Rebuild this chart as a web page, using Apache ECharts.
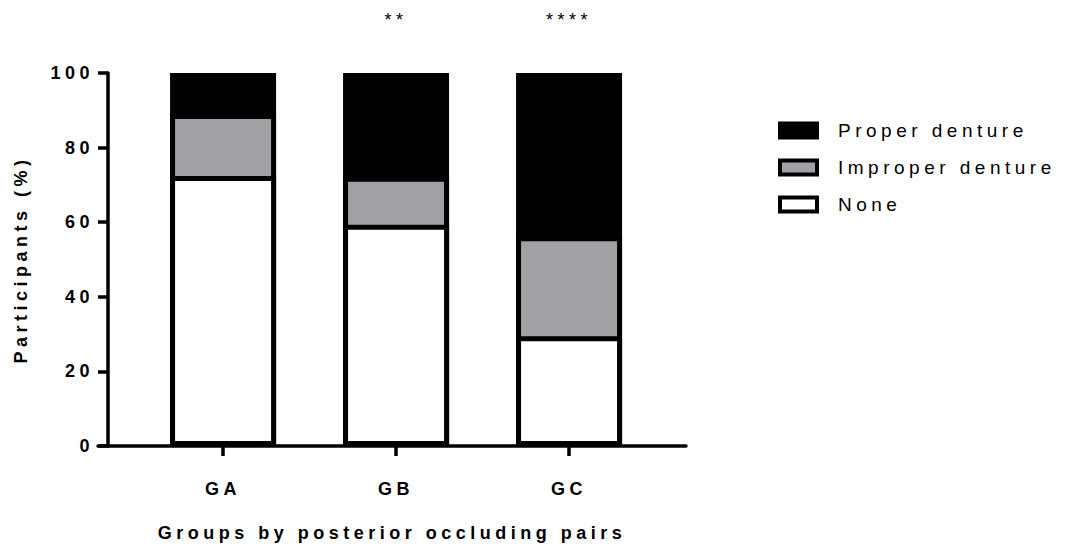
<!DOCTYPE html>
<html>
<head>
<meta charset="utf-8">
<script src="https://cdn.jsdelivr.net/npm/echarts@6/dist/echarts.min.js"></script>
<style>
html,body{margin:0;padding:0;background:#fff}
#c{width:1078px;height:547px}
#c text{letter-spacing:4.5px}
</style>
</head>
<body>
<div id="c"></div>
<script>
const categories = ['GA', 'GB', 'GC'];
const noneVals = [72.4, 59.3, 29.4];
const improperVals = [16.6, 12.9, 26.8];
const properVals = [11.0, 27.8, 43.8];
const significance = ['', '**', '****'];
const yTicks = [0, 20, 40, 60, 80, 100];

const chart = echarts.init(document.getElementById('c'), null, { renderer: 'svg' });
const pos = categories.map((c, i) => i + 1);
const font = 'Liberation Sans, Arial, sans-serif';

// stacked tops (cumulative), drawn back-to-front with overlapping bars
const topNone = noneVals.slice();
const topImproper = noneVals.map((v, i) => v + improperVals[i]);
const topProper = topImproper.map((v, i) => v + properVals[i]);

function mk(name, vals, color, extra) {
  return Object.assign({
    name: name,
    type: 'bar',
    barWidth: 106,
    barGap: '-100%',
    itemStyle: { color: color, borderColor: '#000', borderWidth: 5 },
    data: vals.map((v, i) => [pos[i], v])
  }, extra || {});
}

chart.setOption({
  animation: false,
  backgroundColor: '#fff',
  grid: { left: 98, right: 392, top: 73, bottom: 93 },
  legend: {
    orient: 'vertical',
    left: 773, top: 116,
    icon: 'rect',
    itemWidth: 37, itemHeight: 14, itemGap: 18,
    itemStyle: { borderColor: '#000', borderWidth: 4 },
    data: ['Proper denture', 'Improper denture', 'None'],
    textStyle: { fontFamily: font, fontSize: 19, color: '#000', padding: [0, 0, 0, 16] }
  },
  xAxis: {
    type: 'value',
    min: 0.277, max: 3.676,
    name: 'Groups by posterior occluding pairs',
    nameLocation: 'middle', nameGap: 78,
    nameTextStyle: { fontFamily: font, fontSize: 18, fontWeight: 'bold', color: '#000' },
    splitLine: { show: false },
    axisLine: { show: true, lineStyle: { color: '#000', width: 3.5 } },
    axisTick: { show: true, customValues: pos, length: 10, lineStyle: { color: '#000', width: 3.5 } },
    axisLabel: {
      customValues: pos, margin: 34,
      formatter: v => categories[Math.round(v) - 1] || '',
      fontFamily: font, fontSize: 18, fontWeight: 'bold', color: '#000'
    }
  },
  yAxis: {
    type: 'value',
    min: yTicks[0], max: yTicks[yTicks.length - 1], interval: 20,
    offset: -10,
    name: 'Participants (%)',
    nameLocation: 'middle', nameGap: 78, nameRotate: 90,
    nameTextStyle: { fontFamily: font, fontSize: 18, fontWeight: 'bold', color: '#000' },
    splitLine: { show: false },
    axisLine: { show: true, lineStyle: { color: '#000', width: 3.5 } },
    axisTick: { show: true, length: 10, lineStyle: { color: '#000', width: 3.5 } },
    axisLabel: { margin: 14, fontFamily: font, fontSize: 18, fontWeight: 'bold', color: '#000' }
  },
  series: [
    mk('Proper denture', topProper, '#000000', {
      label: {
        show: true, position: 'top', distance: 44,
        formatter: p => significance[p.dataIndex],
        fontFamily: font, fontSize: 18, color: '#000'
      }
    }),
    mk('Improper denture', topImproper, '#a1a0a5'),
    mk('None', topNone, '#ffffff')
  ]
});
</script>
</body>
</html>
